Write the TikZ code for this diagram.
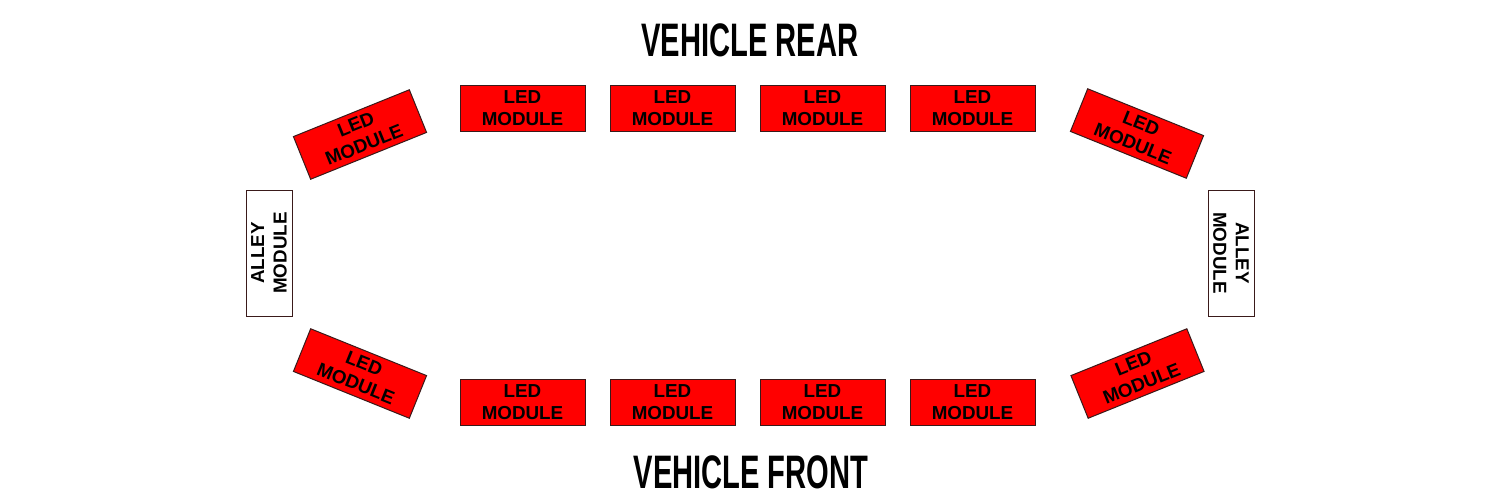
\documentclass[tikz,border=0pt]{standalone}
\usepackage{fontspec}
\setmainfont{Liberation Sans}
\newfontfamily\titlefont[FakeStretch=0.62]{Liberation Sans}
\usepackage{tikz}
\usepackage{xcolor}
\definecolor{ledred}{HTML}{FF0000}
\definecolor{edgegray}{HTML}{3A1A1A}
\tikzset{
  ledbox/.style={draw=edgegray,line width=0.5pt,fill=ledred,minimum width=62.5pt,minimum height=23pt,inner sep=0pt,align=center,font=\fontsize{9.4}{11}\selectfont\bfseries},
  alleybox/.style={draw=edgegray,line width=0.5pt,fill=white,minimum width=63pt,minimum height=23pt,inner sep=0pt,align=center,font=\fontsize{9.4}{11.2}\selectfont\bfseries},
  titletext/.style={font=\fontsize{23.5}{26}\selectfont\titlefont\bfseries}
}
\begin{document}
\begin{tikzpicture}[x=0.5pt,y=-0.5pt]
\useasboundingbox (0,0) rectangle (1500,500);
% titles
\node[titletext] (rear) at (750,40) {VEHICLE REAR};
\node[titletext] (front) at (751,472) {VEHICLE FRONT};
% rear row
\node[ledbox] (r1) at (522.5,108) {LED\\MODULE};
\node[ledbox] (r2) at (672.5,108) {LED\\MODULE};
\node[ledbox] (r3) at (822.5,108) {LED\\MODULE};
\node[ledbox] (r4) at (972.5,108) {LED\\MODULE};
% front row
\node[ledbox] (f1) at (522.5,402.5) {LED\\MODULE};
\node[ledbox] (f2) at (672.5,402.5) {LED\\MODULE};
\node[ledbox] (f3) at (822.5,402.5) {LED\\MODULE};
\node[ledbox] (f4) at (972.5,402.5) {LED\\MODULE};
% corners
\node[ledbox,rotate=22] (rl) at (360,134.5) {LED\\MODULE};
\node[ledbox,rotate=-22] (rr) at (1137,133.5) {LED\\MODULE};
\node[ledbox,rotate=-22] (fl) at (360,373.5) {LED\\MODULE};
\node[ledbox,rotate=22] (fr) at (1137.5,373.5) {LED\\MODULE};
% alley lights
\node[alleybox,rotate=90] (al) at (269,253) {ALLEY\\MODULE};
\node[alleybox,rotate=-90] (ar) at (1231,253) {ALLEY\\MODULE};
\end{tikzpicture}
\end{document}
